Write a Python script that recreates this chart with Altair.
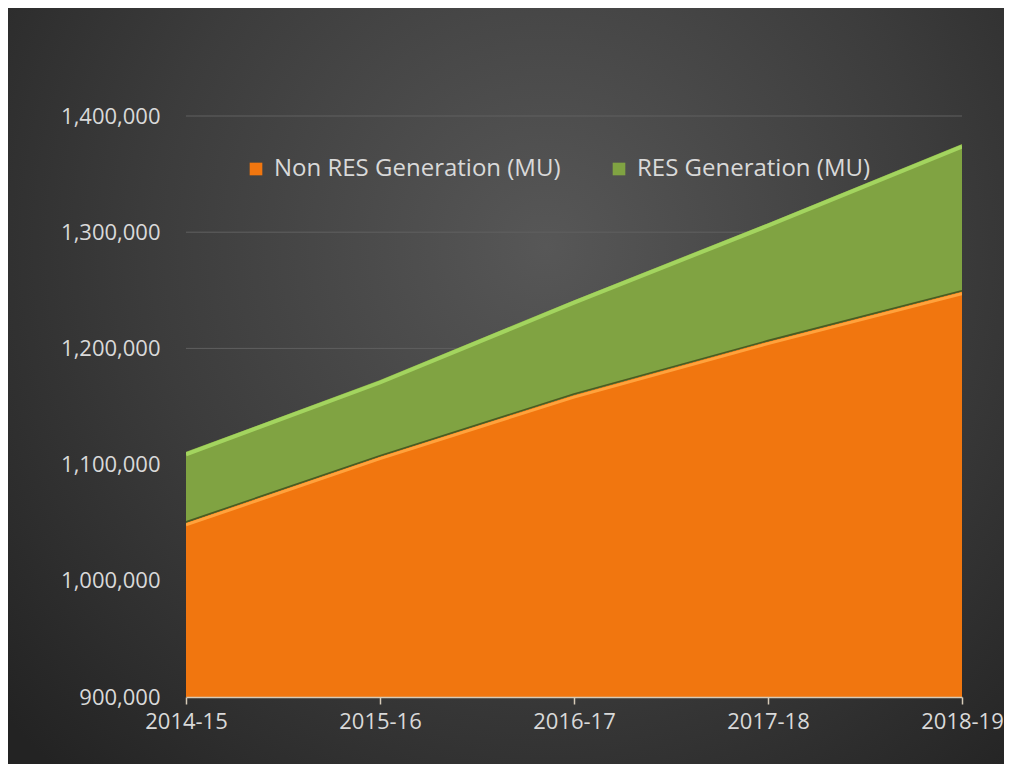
import altair as alt
import pandas as pd

years = ["2014-15", "2015-16", "2016-17", "2017-18", "2018-19"]
non_res = [1050000, 1107000, 1160000, 1206000, 1249000]
res = [61000, 65800, 81500, 101800, 126800]
y_ticks = [900000, 1000000, 1100000, 1200000, 1300000, 1400000]

S_NON = "Non RES Generation (MU)"
S_RES = "RES Generation (MU)"

df = pd.DataFrame({"year": years, S_NON: non_res, S_RES: res})
grid_df = pd.DataFrame({"v": y_ticks[1:]})

FONT = "Open Sans"
LABEL = "#d9d9d9"
ORANGE = "#F1760F"
GREEN = "#80A342"

W, H = 776, 581
PL, PT, PR, PB = 178, 108, 42, 67

x_enc = alt.X("year:O", sort=years,
              scale=alt.Scale(type="point", padding=0),
              axis=alt.Axis(title=None, labelAngle=0, labelFont=FONT, labelFontSize=22,
                            labelColor=LABEL, domainColor="#d6cbb8", domainWidth=1.5,
                            tickColor="#d6cbb8", tickSize=7, tickWidth=1.5,
                            labelPadding=7, grid=False, zindex=2))
y_scale = alt.Scale(domain=[900000, 1400000], zero=False, nice=False)
y_axis = alt.Axis(title=None, values=y_ticks,
                  labelExpr="format(datum.value, ',')",
                  labelFont=FONT, labelFontSize=22, labelColor=LABEL,
                  domain=False, ticks=False, tickSize=0, labelPadding=26,
                  grid=False, zindex=2)

bg_grad = alt.Gradient(
    gradient="radial",
    x1=0.54, y1=0.36, x2=0.54, y2=0.36, r1=0, r2=0.72,
    stops=[alt.GradientStop(color="#575757", offset=0),
           alt.GradientStop(color="#3c3c3c", offset=0.55),
           alt.GradientStop(color="#232323", offset=1)],
)

bg = alt.Chart(pd.DataFrame({"a": [0]})).mark_rect(fill=bg_grad, clip=False).encode(
    x=alt.value(-PL), x2=alt.value(W + PR), y=alt.value(-PT), y2=alt.value(H + PB)
)

grid = alt.Chart(grid_df).mark_rule(color="#606060", strokeWidth=1).encode(
    y=alt.Y("v:Q", scale=y_scale)
)

area = alt.Chart(df).transform_fold(
    [S_NON, S_RES], as_=["series", "value"]
).transform_calculate(
    ord="datum.series == '" + S_NON + "' ? 0 : 1"
).mark_area(clip=True, opacity=1).encode(
    x=x_enc,
    y=alt.Y("value:Q", stack="zero", scale=y_scale, axis=y_axis),
    color=alt.Color("series:N", scale=alt.Scale(domain=[S_NON, S_RES], range=[ORANGE, GREEN]),
                    legend=alt.Legend(title=None, orient="none", legendX=58, legendY=41,
                                      direction="horizontal", symbolType="square",
                                      symbolSize=160, symbolStrokeWidth=0,
                                      labelFont=FONT, labelFontSize=24, labelColor=LABEL,
                                      labelLimit=0, columnPadding=46, labelOffset=6,
                                      padding=0, zindex=2)),
    order=alt.Order("ord:Q"),
)

lines_base = alt.Chart(df).transform_calculate(
    total="datum['" + S_NON + "'] + datum['" + S_RES + "']",
    nonr="datum['" + S_NON + "']",
)

green_hl = lines_base.mark_line(color="#a3d45f", strokeWidth=4, yOffset=2.5, clip=True).encode(
    x=alt.X("year:O", sort=years), y=alt.Y("total:Q", scale=y_scale)
)
dark_edge = lines_base.mark_line(color="#4a5a22", strokeWidth=1.6, yOffset=-0.8, clip=True).encode(
    x=alt.X("year:O", sort=years), y=alt.Y("nonr:Q", scale=y_scale)
)
orange_hl = lines_base.mark_line(color="#ffa23c", strokeWidth=3, yOffset=2.2, clip=True).encode(
    x=alt.X("year:O", sort=years), y=alt.Y("nonr:Q", scale=y_scale)
)

chart = alt.layer(bg, grid, area, green_hl, dark_edge, orange_hl).properties(
    width=W, height=H,
    padding={"left": PL, "top": PT, "right": PR, "bottom": PB},
    autosize=alt.AutoSizeParams(type="none"),
    background="#2b2b2b",
).configure_view(stroke=None)

chart.save("out.html", embed_options={"renderer": "svg", "actions": False})
